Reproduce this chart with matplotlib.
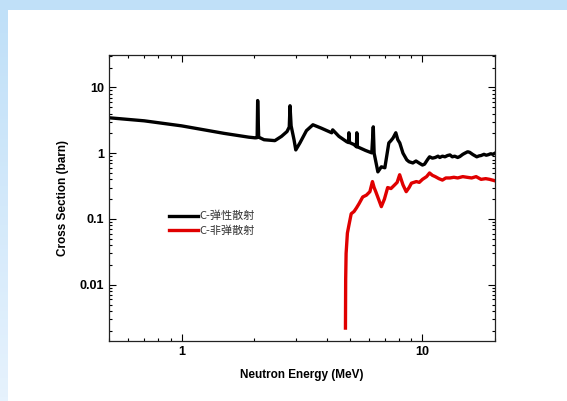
import numpy as np
import matplotlib
matplotlib.use("Agg")
import matplotlib.pyplot as plt
from matplotlib.patches import Rectangle
from matplotlib.ticker import LogLocator, NullFormatter, FixedLocator, FixedFormatter

plt.rcParams['font.family'] = ['Liberation Sans', 'Noto Sans CJK SC', 'DejaVu Sans']

# elastic scattering (C), energy in MeV, cross section in barn
elastic_E = [0.5, 0.7, 1.0, 1.5, 1.9, 2.02, 2.06, 2.07, 2.09, 2.2, 2.44, 2.6, 2.74,
             2.80, 2.82, 2.85, 2.93, 2.98, 3.10, 3.3, 3.51, 3.8, 4.20, 4.24, 4.5,
             4.85, 4.93, 4.95, 4.98, 5.2, 5.32, 5.34, 5.37, 5.8, 6.16, 6.25, 6.30,
             6.53, 6.75, 6.98, 7.25, 7.4, 7.55, 7.75, 7.9, 8.05, 8.3, 8.61, 8.8, 9.12,
             9.4, 9.73, 10.0, 10.2, 10.5, 10.7, 11.0, 11.3, 11.6, 11.8, 12.1, 12.4,
             12.7, 13.0, 13.3, 13.6, 14.0, 14.3, 14.7, 15.0, 15.4, 15.7, 16.2, 16.8,
             17.2, 17.5, 18.0, 18.4, 18.8, 19.2, 19.6, 20.0]
elastic_xs = [3.45, 3.1, 2.6, 2.0, 1.75, 1.71, 1.72, 6.3, 1.75, 1.6, 1.55, 1.8, 2.13,
              2.5, 5.25, 2.6, 1.6, 1.12, 1.43, 2.2, 2.70, 2.4, 2.04, 2.26, 1.8,
              1.49, 1.45, 2.04, 1.45, 1.35, 1.25, 2.04, 1.25, 1.1, 1.01, 2.51, 1.0,
              0.52, 0.62, 0.60, 1.43, 1.55, 1.7, 2.04, 1.6, 1.43, 1.0, 0.79, 0.74, 0.71,
              0.76, 0.70, 0.66, 0.68, 0.80, 0.88, 0.84, 0.86, 0.90, 0.86, 0.90, 0.88,
              0.92, 0.94, 0.88, 0.90, 0.86, 0.89, 0.96, 1.00, 1.05, 1.03, 0.95, 0.88,
              0.91, 0.92, 0.96, 0.93, 0.95, 0.98, 0.96, 1.0]

# inelastic scattering (C)
inelastic_E = [4.79, 4.80, 4.82, 4.88, 4.95, 5.06, 5.2, 5.32, 5.45, 5.65, 5.85, 6.05,
               6.2, 6.3, 6.4, 6.75, 6.95, 7.17, 7.4, 7.67, 7.85, 8.04, 8.3, 8.56, 8.8,
               9.0, 9.43, 9.7, 10.0, 10.4, 10.7, 11.0, 11.3, 11.7, 12.1, 12.5, 13.0,
               13.5, 14.0, 14.7, 15.3, 16.0, 16.7, 17.5, 18.3, 19.0, 19.5, 20.0]
inelastic_xs = [0.0022, 0.012, 0.03, 0.061, 0.08, 0.12, 0.13, 0.147, 0.17, 0.216, 0.23, 0.26,
                0.37, 0.30, 0.26, 0.154, 0.20, 0.30, 0.29, 0.33, 0.36, 0.47, 0.33, 0.26,
                0.30, 0.35, 0.37, 0.36, 0.40, 0.44, 0.50, 0.46, 0.44, 0.41, 0.39, 0.42,
                0.42, 0.43, 0.42, 0.44, 0.43, 0.42, 0.44, 0.40, 0.41, 0.40, 0.39, 0.38]

labels = ['C-弹性散射', 'C-非弹散射']

fig = plt.figure(figsize=(5.67, 4.01), dpi=100)
fig.patch.set_facecolor('white')

# light blue page border (top strip and fading left strip)
fig.patches.append(Rectangle((0, 1 - 10 / 401), 1, 10 / 401, transform=fig.transFigure,
                             facecolor='#c0e0f8', edgecolor='none', zorder=0))
grad = np.linspace(0, 1, 100).reshape(-1, 1)
bax = fig.add_axes([0, 0, 8 / 567, 1 - 10 / 401], zorder=0)
bax.imshow(grad, aspect='auto', extent=[0, 1, 0, 1], origin='lower',
           cmap=matplotlib.colors.LinearSegmentedColormap.from_list('b', ['#e6f2fd', '#c0e0f8']))
bax.axis('off')

ax = fig.add_axes([109 / 567, 1 - 341 / 401, 386 / 567, 286 / 401])
ax.plot(elastic_E, elastic_xs, color='black', lw=2.4, label=labels[0])
ax.plot(inelastic_E, inelastic_xs, color='#e00000', lw=2.4, label=labels[1])

ax.set_xscale('log')
ax.set_yscale('log')
ax.set_xlim(0.5, 20)
ax.set_ylim(0.0014, 31)

ax.xaxis.set_major_locator(FixedLocator([1, 10]))
ax.xaxis.set_major_formatter(FixedFormatter(['1', '10']))
ax.xaxis.set_minor_locator(LogLocator(base=10, subs=np.arange(2, 10)))
ax.xaxis.set_minor_formatter(NullFormatter())
ax.yaxis.set_major_locator(FixedLocator([0.01, 0.1, 1, 10]))
ax.yaxis.set_major_formatter(FixedFormatter(['0.01', '0.1', '1', '10']))
ax.yaxis.set_minor_locator(LogLocator(base=10, subs=np.arange(2, 10)))
ax.yaxis.set_minor_formatter(NullFormatter())

ax.tick_params(which='both', direction='in', top=True, right=True, width=0.8)
ax.tick_params(which='major', length=5, labelsize=9)
ax.tick_params(which='minor', length=2.5)
for t in ax.get_xticklabels() + ax.get_yticklabels():
    t.set_fontweight('bold')
for s in ax.spines.values():
    s.set_linewidth(0.9)
    s.set_color('#222222')

ax.set_xlabel('Neutron Energy (MeV)', fontsize=8.5, fontweight='bold', labelpad=8)
ax.set_ylabel('Cross Section (barn)', fontsize=8.5, fontweight='bold', labelpad=8)

leg = ax.legend(loc='upper left', bbox_to_anchor=(0.13, 0.49), frameon=False,
                handlelength=2.6, handletextpad=0.1, labelspacing=0.35,
                prop={'family': ['Noto Sans CJK SC', 'DejaVu Sans'], 'size': 8})
for t in leg.get_texts():
    t.set_color('#333333')

fig.savefig('out.png', dpi=100)
